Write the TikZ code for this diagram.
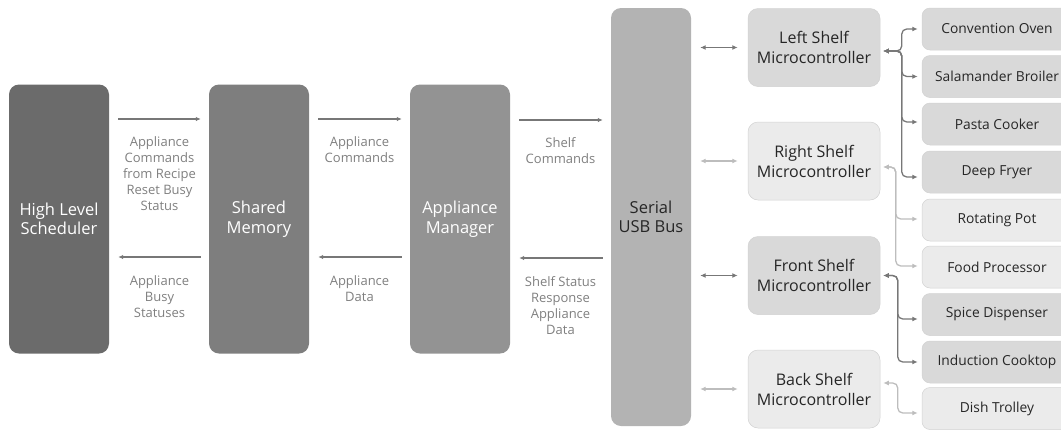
\documentclass[tikz,border=0pt]{standalone}
\usepackage{fontspec}
\setmainfont{Open Sans}
\usetikzlibrary{arrows.meta}
\definecolor{cHLS}{HTML}{6B6B6B}
\definecolor{cSM}{HTML}{7E7E7E}
\definecolor{cAM}{HTML}{939393}
\definecolor{cUSB}{HTML}{B3B3B3}
\definecolor{cDark}{HTML}{D9D9D9}
\definecolor{cLight}{HTML}{EBEBEB}
\definecolor{cEdge}{HTML}{D2D2D2}
\definecolor{cLbl}{HTML}{7F7F7F}
\definecolor{cArr}{HTML}{777777}
\definecolor{cArrL}{HTML}{BDBDBD}
\definecolor{cTxt}{HTML}{262626}
\tikzset{
  big/.style={rounded corners=10pt, minimum width=100pt, minimum height=269pt,
    inner sep=0pt, align=center, text=white, font=\fontsize{16.5}{19.5}\selectfont},
  shelf/.style={rounded corners=10pt, minimum width=132pt, minimum height=78pt,
    inner sep=0pt, align=center, text=cTxt, draw=cEdge, line width=0.5pt,
    font=\fontsize{16}{20}\selectfont},
  appl/.style={rounded corners=8pt, minimum width=150pt, minimum height=42pt,
    inner sep=0pt, text=cTxt, draw=cEdge, line width=0.5pt,
    font=\fontsize{13.8}{16}\selectfont},
  lbl/.style={align=center, text=cLbl, inner sep=0pt, anchor=north,
    font=\fontsize{13}{16}\selectfont},
  arr/.style={draw=cArr, line width=1.3pt, -{Latex[length=5pt,width=4.5pt]}},
  dk/.style={draw=cArr, line width=1.3pt, {Latex[length=5.5pt,width=5pt]}-{Latex[length=5.5pt,width=5pt]}},
  lt/.style={draw=cArrL, line width=1.3pt, {Latex[length=5.5pt,width=5pt]}-{Latex[length=5.5pt,width=5pt]}},
  fan/.style={rounded corners=5pt},
}
\begin{document}
\begin{tikzpicture}[x=1pt, y=-1pt]
\useasboundingbox (0,0) rectangle (1061,429);
\clip (0,0) rectangle (1061,429);

% main processing blocks
\node[big, fill=cHLS] (hls) at (59,219) {High Level\\Scheduler};
\node[big, fill=cSM] (sm) at (259,219) {Shared\\Memory};
\node[big, fill=cAM] (am) at (460,219) {Appliance\\Manager};
\node[big, fill=cUSB, minimum width=80pt, minimum height=418pt, text=cTxt] (usb) at (651,217) {Serial\\USB Bus};

% shelf microcontrollers
\node[shelf, fill=cDark] (ls) at (814,47.5) {Left Shelf\\Microcontroller};
\node[shelf, fill=cLight] (rs) at (814,161) {Right Shelf\\Microcontroller};
\node[shelf, fill=cDark] (fs) at (814,275.5) {Front Shelf\\Microcontroller};
\node[shelf, fill=cLight] (bs) at (814,389) {Back Shelf\\Microcontroller};

% appliances
\node[appl, fill=cDark] (co) at (997,29) {Convention Oven};
\node[appl, fill=cDark] (sb) at (997,76.5) {Salamander Broiler};
\node[appl, fill=cDark] (pc) at (997,124) {Pasta Cooker};
\node[appl, fill=cDark] (df) at (997,172) {Deep Fryer};
\node[appl, fill=cLight] (rp) at (997,220) {Rotating Pot};
\node[appl, fill=cLight] (fp) at (997,267) {Food Processor};
\node[appl, fill=cDark] (sd) at (997,314.5) {Spice Dispenser};
\node[appl, fill=cDark] (ic) at (997,362) {Induction Cooktop};
\node[appl, fill=cLight] (dt) at (997,408.5) {Dish Trolley};

% commands flowing right
\draw[arr, shorten <=9pt, shorten >=8pt] (hls.east |- 0,119) -- (sm.west |- 0,119);
\draw[arr, shorten <=9pt, shorten >=8pt] (sm.east |- 0,119) -- (am.west |- 0,119);
\draw[arr, shorten <=9pt, shorten >=8pt] (am.east |- 0,120) -- (usb.west |- 0,120);
% data flowing left
\draw[arr, shorten <=8pt, shorten >=9pt] (sm.west |- 0,257) -- (hls.east |- 0,257);
\draw[arr, shorten <=8pt, shorten >=9pt] (am.west |- 0,257) -- (sm.east |- 0,257);
\draw[arr, shorten <=8pt, shorten >=9pt] (usb.west |- 0,258) -- (am.east |- 0,258);

% link labels
\node[lbl] (l1) at (159.5,136) {Appliance\\Commands\\from Recipe\\Reset Busy\\Status};
\node[lbl] (l2) at (159.5,275) {Appliance\\Busy\\Statuses};
\node[lbl] (l3) at (359.5,136) {Appliance\\Commands};
\node[lbl] (l4) at (359.5,275) {Appliance\\Data};
\node[lbl] (l5) at (560.5,137) {Shelf\\Commands};
\node[lbl] (l6) at (560.5,276) {Shelf Status\\Response\\Appliance\\Data};

% bus to shelves
\draw[dk, shorten <=9pt, shorten >=10pt] (usb.east |- ls.west) -- (ls.west);
\draw[lt, shorten <=9pt, shorten >=10pt] (usb.east |- rs.west) -- (rs.west);
\draw[dk, shorten <=9pt, shorten >=10pt] (usb.east |- fs.west) -- (fs.west);
\draw[lt, shorten <=9pt, shorten >=10pt] (usb.east |- bs.west) -- (bs.west);

% left shelf fan-out
\foreach \a/\dy in {co/0, sb/0, pc/2, df/-5}
  \draw[dk, fan] ([xshift=3pt,yshift=-3.5pt]ls.east) -| ([xshift=-20pt,yshift=\dy pt]\a.west) -- ([xshift=-4pt,yshift=\dy pt]\a.west);
% right shelf fan-out
\foreach \a/\dy in {rp/1, fp/1}
  \draw[lt, fan] ([xshift=3pt,yshift=-6pt]rs.east) -| ([xshift=-26pt,yshift=\dy pt]\a.west) -- ([xshift=-4pt,yshift=\dy pt]\a.west);
% front shelf fan-out
\foreach \a/\dy in {sd/-4.5, ic/0}
  \draw[dk, fan] ([xshift=3pt]fs.east) -| ([xshift=-24pt,yshift=\dy pt]\a.west) -- ([xshift=-4pt,yshift=\dy pt]\a.west);
% back shelf link
\draw[lt, fan] ([xshift=3pt,yshift=6pt]bs.east) -| ([xshift=-24pt,yshift=-4.5pt]dt.west) -- ([xshift=-4pt,yshift=-4.5pt]dt.west);
\end{tikzpicture}
\end{document}
